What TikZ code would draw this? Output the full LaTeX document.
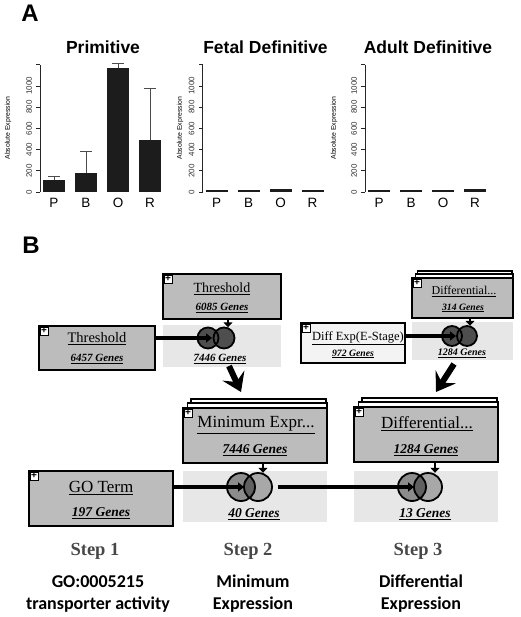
\documentclass[tikz,border=0pt]{standalone}
\usepackage{fontspec}
\setmainfont{Liberation Serif}
\setsansfont{Liberation Sans}
\newfontfamily\calibri{Carlito}
\usepackage{tikz}
\usetikzlibrary{positioning,arrows.meta,calc,backgrounds}
\definecolor{barblack}{RGB}{28,28,28}
\definecolor{boxgray}{RGB}{188,188,188}
\definecolor{regiongray}{RGB}{231,231,231}
\definecolor{lightbox}{RGB}{243,243,243}
\definecolor{venndark}{RGB}{78,78,78}
\definecolor{vennleft}{RGB}{140,140,140}
\definecolor{vennright}{RGB}{168,168,168}
\definecolor{vennmid}{RGB}{96,96,96}
\definecolor{stepgray}{RGB}{72,72,72}
\tikzset{%
  panel/.style={font=\fontsize{24}{24}\selectfont\sffamily\bfseries},% panel letters
  plottitle/.style={font=\fontsize{17.5}{18}\selectfont\sffamily\bfseries},
  ticklab/.style={rotate=90, inner sep=0pt, font=\fontsize{8}{8}\selectfont\sffamily, text=black!80},
  ylab/.style={rotate=90, inner sep=0pt, font=\fontsize{6.9}{7}\selectfont\sffamily},
  barlab/.style={inner sep=0pt, font=\fontsize{13.5}{14}\selectfont\sffamily},
  axisline/.style={draw=black!85, line width=0.7pt},
  bar/.style={fill=barblack},
  errbar/.style={draw=black!70, line width=0.9pt},
  filter/.style={draw, line width=2pt, fill=boxgray, inner sep=0pt},% gene filter box
  layer/.style={draw, line width=1.4pt, fill=white},% back sheets of a stacked filter
  region/.style={fill=regiongray, inner sep=0pt},% result area under a filter
  plusbox/.style={draw, line width=0.6pt, fill=white, inner sep=0pt, minimum size=8pt,
    font=\fontsize{10}{10}\selectfont\sffamily\bfseries},
  boxtitle/.style={inner sep=0pt, font=\fontsize{#1}{#1}\selectfont},
  genes/.style={inner sep=0pt, font=\fontsize{#1}{#1}\selectfont\bfseries\itshape},
  vennring/.style={circle, inner sep=0pt, minimum size=#1},
  vennline/.style={draw, line width=1.8pt},
  feed/.style={line width=3.4pt, -{Triangle[length=6pt,width=9pt]}},% filter into venn
  drop/.style={line width=2.6pt, -{Triangle[length=5pt,width=9pt]}},
  bigarrow/.style={line width=6pt, -{Stealth[length=18pt,width=24pt,inset=7pt]}},
  steplab/.style={font=\fontsize{18.5}{18}\selectfont\bfseries, text=stepgray},
  caption/.style={align=center, font=\fontsize{18}{22}\selectfont\calibri\bfseries}
}
\newcommand*{\ys}{0.106}% pixels per unit of expression
\newcommand*{\venn}[7]{% name, centre, radius, half distance, left, right, overlap
  \node[vennring=2*#3pt, fill=#5] (#1l) at ($(#2)+(-#4,0)$) {};
  \node[vennring=2*#3pt, fill=#6] (#1r) at ($(#2)+(#4,0)$) {};
  \begin{scope}
    \clip (#1l.center) circle[radius=#3pt];
    \fill[#7] (#1r.center) circle[radius=#3pt];
  \end{scope}
  \draw[vennline] (#1l.center) circle[radius=#3pt];
  \draw[vennline] (#1r.center) circle[radius=#3pt];
}
\newcommand*{\sheets}[2]{% two sheets behind node #1, step #2
  \begin{scope}[on background layer]
    \draw[layer] ([xshift=2.2*#2pt, yshift=2*#2pt]#1.north west) rectangle ([xshift=-2pt]#1.east);
    \draw[layer] ([xshift=1.4*#2pt, yshift=#2pt]#1.north west) rectangle ([xshift=-1pt]#1.east);
  \end{scope}
}

\begin{document}
\begin{tikzpicture}[x=1pt,y=-1pt]
\useasboundingbox (0,0) rectangle (520,617);

%% panel A
\node[panel] (lblA) at (30,13) {A};
\foreach \k/\ttl/\yx in {0/Primitive/8, 1/Fetal Definitive/17.5, 2/Adult Definitive/9}{
  \begin{scope}[xshift=\k*162.5pt]
    \node[plottitle] (title\k) at (103,47) {\ttl};
    \node[ylab] (ylab\k) at (\yx,128) {Absolute Expression};
    \draw[axisline] (40,192) -- (40,{192-1200*\ys});
    \foreach \t in {0,200,...,1200}
      \draw[axisline] (40,{192-\t*\ys}) -- ++(-4,0);
    \foreach \t in {0,200,...,1000}
      \node[ticklab] (tick\k-\t) at (29,{192-\t*\ys}) {\t};
    \foreach \lab [count=\i from 0] in {P,B,O,R}
      \node[barlab] (cat\k\lab) at (54+32*\i,203) {\lab};
  \end{scope}
}
\foreach \k/\i/\v in {0/0/116, 0/1/179, 0/2/1173, 0/3/494, 1/0/18, 1/1/22, 1/2/32, 1/3/18,
    2/0/18, 2/1/18, 2/2/18, 2/3/30}
  \fill[bar] ({43+32*\i+162.5*\k},192) rectangle ++(22,{-\v*\ys});
\foreach \x/\v/\e in {54/116/148, 86/179/380, 118/1173/1210, 150/494/981}
  \draw[errbar] (\x,{192-\v*\ys}) -- (\x,{192-\e*\ys}) ++(-6,0) -- ++(12,0);

%% panel B
\node[panel] (lblB) at (31,245) {B};

% result areas
\node[region, minimum width=118pt, minimum height=42pt] (reg1) at (222,346) {};
\node[region, minimum width=101pt, minimum height=38pt] (reg2) at (462.5,341) {};
\node[region, minimum width=144pt, minimum height=51pt] (reg3) at (255,496.5) {};
\node[region, minimum width=144pt, minimum height=51pt] (reg4) at (426,496.5) {};

% filters
\node[filter, minimum width=116pt, minimum height=44pt] (thrL) at (97,348) {};
\node[filter, minimum width=118pt, minimum height=45pt] (thrT) at (222,296.5) {};
\node[filter, minimum width=101pt, minimum height=40pt] (diffT) at (462.5,298) {};
\node[filter, fill=lightbox, minimum width=104pt, minimum height=40pt] (diffE) at (353,343) {};
\node[filter, minimum width=144pt, minimum height=55pt] (minE) at (255,435.5) {};
\node[filter, minimum width=144pt, minimum height=55pt] (diffM) at (426,434.5) {};
\node[filter, minimum width=144pt, minimum height=55pt] (goT) at (101,498.5) {};
\sheets{diffT}{3}
\sheets{minE}{4}
\sheets{diffM}{4}

\foreach \b in {thrL,thrT,diffT,diffE,minE,diffM,goT}
  \node[plusbox] (plus\b) at ([xshift=6pt,yshift=-6pt]\b.north west) {+};

\node[boxtitle=14.5] (thrLt) at (97,339) {\underline{Threshold}};
\node[genes=11] (thrLg) at (97,359) {\underline{6457 Genes}};
\node[boxtitle=14] (thrTt) at (222,289) {\underline{Threshold}};
\node[genes=11] (thrTg) at (222,308) {\underline{6085 Genes}};
\node[boxtitle=12] (diffTt) at (464,291) {\underline{Differential...}};
\node[genes=9.7] (diffTg) at (463,308) {\underline{314 Genes}};
\node[boxtitle=12.5] (diffEt) at (358,338) {\underline{Diff Exp(E-Stage)}};
\node[genes=9.7] (diffEg) at (353,354) {\underline{972 Genes}};
\node[boxtitle=17] (minEt) at (256,425) {\underline{Minimum Expr...}};
\node[genes=13.5] (minEg) at (255,450) {\underline{7446 Genes}};
\node[boxtitle=17] (diffMt) at (427,424) {\underline{Differential...}};
\node[genes=13.5] (diffMg) at (426,450) {\underline{1284 Genes}};
\node[boxtitle=17] (goTt) at (101,488) {\underline{GO Term}};
\node[genes=13.5] (goTg) at (101,513) {\underline{197 Genes}};

% overlaps
\venn{va}{216,338}{10.5}{8}{venndark}{venndark}{venndark}
\venn{vb}{459.5,336}{10}{7.5}{venndark}{venndark}{venndark}
\venn{vc}{249.5,487}{14}{8.5}{vennleft}{vennright}{vennmid}
\venn{vd}{420,487}{14}{8}{vennleft}{vennright}{vennmid}

\node[genes=11] (vag) at (220,359) {\underline{7446 Genes}};
\node[genes=10] (vbg) at (462,353) {\underline{1284 Genes}};
\node[genes=13.5] (vcg) at (254,514) {\underline{40 Genes}};
\node[genes=13.5] (vdg) at (425,514) {\underline{13 Genes}};

% connectors
\draw[feed] (thrL.east |- val.center) -- ([xshift=4pt]val.center);
\draw[feed] (diffE.east |- vbl.center) -- ([xshift=4pt]vbl.center);
\draw[feed] (goT.east |- vcl.center) -- ([xshift=3pt]vcl.center);
\draw[feed] ([xshift=6pt]vcr.east) -- ([xshift=2pt]vdl.center);
\draw[drop] ([xshift=6pt]thrT.south) -- ([xshift=4pt]var.north);
\draw[drop] ([xshift=7.5pt]diffT.south) -- ([xshift=3pt]vbr.north);
\draw[drop] ([xshift=8pt]minE.south) -- ([xshift=5pt]vcr.north);
\draw[drop] ([xshift=9pt]diffM.south) -- ([xshift=7pt]vdr.north);

\coordinate (bigA1) at (229,366);
\coordinate (bigA2) at (241,392);
\coordinate (bigB1) at (454,364);
\coordinate (bigB2) at (436,392);
\draw[bigarrow] (bigA1) -- (bigA2);
\draw[bigarrow] (bigB1) -- (bigB2);

% steps
\node[steplab] (step1) at (95,551) {Step 1};
\node[steplab] (step2) at (248,551) {Step 2};
\node[steplab] (step3) at (418,551) {Step 3};
\node[caption] (cap1) at (98,594) {GO:0005215\\transporter activity};
\node[caption] (cap2) at (253,594) {Minimum\\Expression};
\node[caption] (cap3) at (421,594) {Differential\\Expression};
\end{tikzpicture}
\end{document}
